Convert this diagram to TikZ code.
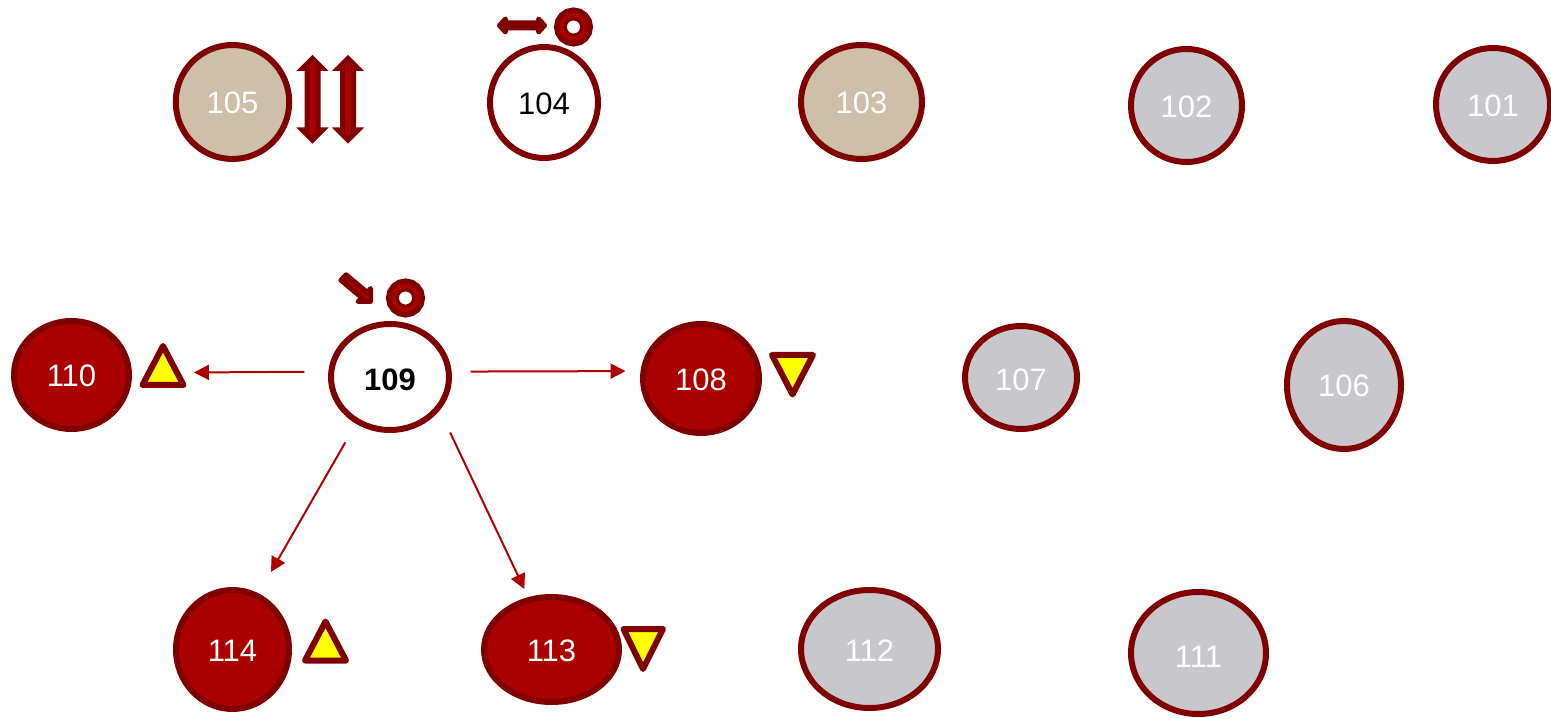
\documentclass[tikz,border=0pt]{standalone}
\usepackage{fontspec}
\setmainfont{Liberation Sans}
\usetikzlibrary{shapes.geometric,arrows.meta}
\definecolor{dkred}{HTML}{800000}
\definecolor{midred}{HTML}{AA0000}
\definecolor{linkred}{HTML}{B00000}
\definecolor{tanfill}{HTML}{CDBFA8}
\definecolor{greyfill}{HTML}{C8C8CC}
\definecolor{warnfill}{HTML}{FFFF00}
\tikzset{
  x=1pt,y=-1pt,
  disc/.style={ellipse,draw=dkred,line width=6pt,inner sep=0pt,text height=23.5pt,text depth=0pt,font=\fontsize{31}{31}\selectfont},
  tandisc/.style={disc,fill=tanfill,text=white},
  greydisc/.style={disc,fill=greyfill,text=white},
  reddisc/.style={disc,fill=midred,text=white},
  whitedisc/.style={disc,fill=white,text=black},
  link/.style={draw=linkred,line width=2pt,-{Triangle[length=15pt,width=15pt]}},
  warn/.style={draw=dkred,fill=warnfill,line width=6pt,line join=round},
  mark arrow/.style={draw=dkred,fill=midred,line width=5pt,line join=miter},
  small arrow/.style={draw=dkred,fill=midred,line width=5pt,line join=round},
  ring dark/.style={draw=dkred,line width=12.8pt},
  ring light/.style={draw=midred,line width=4pt},
}
\newcommand{\vertarrow}[1]{%
  \path[mark arrow] (#1,58.5) -- (#1+10,68.5) -- (#1+5.5,68.5) -- (#1+5.5,130) -- (#1+10,130)
    -- (#1,140) -- (#1-10,130) -- (#1-5.5,130) -- (#1-5.5,68.5) -- (#1-10,68.5) -- cycle;}
\newcommand{\ringmark}[2]{%
  \path[ring dark] (#1,#2) circle[radius=13.1];
  \path[ring light] (#1,#2) circle[radius=12];}
\begin{document}
\begin{tikzpicture}
\useasboundingbox (0,0) rectangle (1551,719);
% nodes
\node[tandisc,minimum width=113.5pt,minimum height=114pt] (n105) at (232.5,102) {105};
\node[whitedisc,minimum width=108pt,minimum height=111pt] (n104) at (544,102.5) {104};
\node[tandisc,minimum width=121pt,minimum height=114pt] (n103) at (861.5,102) {103};
\node[greydisc,minimum width=111pt,minimum height=113pt,text height=25pt] (n102) at (1186.5,105.5) {102};
\node[greydisc,minimum width=114pt,minimum height=113pt,text height=25pt] (n101) at (1493,104.5) {101};
\node[reddisc,minimum width=115pt,minimum height=108pt] (n110) at (71.5,375) {110};
\node[whitedisc,minimum width=118pt,minimum height=106pt,text height=26.5pt,font=\fontsize{31}{31}\selectfont\bfseries] (n109) at (390,377) {109};
\node[reddisc,minimum width=116pt,minimum height=109pt,text height=25pt] (n108) at (701,378.5) {108};
\node[greydisc,minimum width=112pt,minimum height=103pt,text height=26pt] (n107) at (1021,377.5) {107};
\node[greydisc,minimum width=114pt,minimum height=128pt] (n106) at (1344,385) {106};
\node[reddisc,minimum width=113pt,minimum height=119pt] (n114) at (232.5,649.5) {114};
\node[reddisc,minimum width=135pt,minimum height=105pt] (n113) at (551.5,649.5) {113};
\node[greydisc,minimum width=137pt,minimum height=118pt,text height=24pt] (n112) at (869.5,649) {112};
\node[greydisc,minimum width=135pt,minimum height=122pt,text height=29.5pt] (n111) at (1198.5,653) {111};
% connectors
\draw[link,shorten <=24pt,shorten >=62pt] (n109.175) -- (n110.2.5);
\draw[link,shorten <=19pt,shorten >=15pt] (n109.5) -- (n108.173);
\draw[link,shorten <=21.5pt,shorten >=24.6pt] (n109.234.2) -- (n114.65.1);
\draw[link,shorten <=24.4pt,shorten >=8.9pt] (n109.-34.4) -- (n113.114.3);
% yellow triangles
\path[warn] (163,346) -- (183.5,385) -- (142.5,385) -- cycle;
\path[warn] (325.5,621.5) -- (346,660.5) -- (305,660.5) -- cycle;
\path[warn] (772,355) -- (813,355) -- (792.5,394.5) -- cycle;
\path[warn] (623.5,629) -- (663,629) -- (643,669) -- cycle;
% direction marks
\vertarrow{312.5}
\vertarrow{348}
\path[small arrow] (499.5,25.5) -- (505.5,19) -- (505.5,23) -- (538.5,23) -- (538.5,19) -- (544.5,25.5)
  -- (538.5,32) -- (538.5,28) -- (505.5,28) -- (505.5,32) -- cycle;
\path[small arrow] (370.5,301.5) -- (358,301.5) -- (362.4,298.2) -- (340.9,280.2) -- (346.1,274.8) -- (367.6,292.8) -- (370.5,288.5) -- cycle;
\ringmark{573.5}{27}
\ringmark{405.5}{298}
\end{tikzpicture}
\end{document}
